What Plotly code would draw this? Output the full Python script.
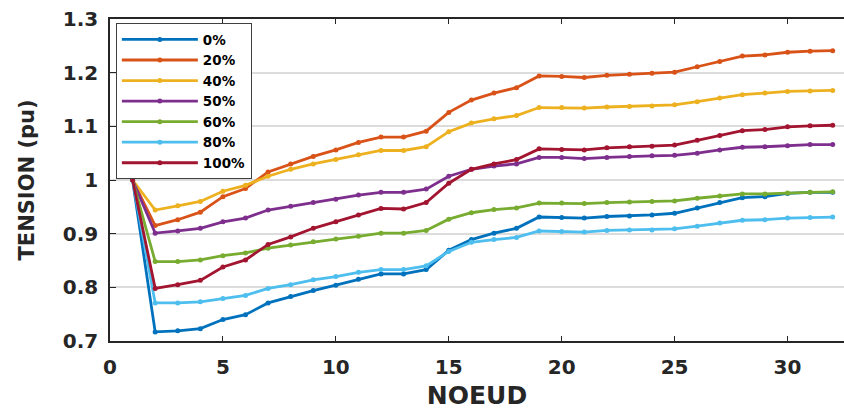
import plotly.graph_objects as go

noeuds = list(range(1, 33))

v0 = [1.0, 0.717, 0.719, 0.723, 0.740, 0.749, 0.771, 0.783, 0.794, 0.804, 0.815,
      0.825, 0.825, 0.833, 0.869, 0.889, 0.901, 0.910, 0.931, 0.930, 0.929,
      0.932, 0.933, 0.935, 0.938, 0.948, 0.958, 0.967, 0.969, 0.975, 0.977, 0.977]
v20 = [1.0, 0.915, 0.926, 0.940, 0.969, 0.984, 1.015, 1.030, 1.044, 1.056, 1.070,
       1.080, 1.080, 1.091, 1.126, 1.149, 1.162, 1.172, 1.194, 1.193, 1.191,
       1.195, 1.197, 1.199, 1.201, 1.211, 1.221, 1.231, 1.233, 1.238, 1.240, 1.241]
v40 = [1.0, 0.944, 0.952, 0.960, 0.979, 0.990, 1.007, 1.020, 1.030, 1.038, 1.047,
       1.055, 1.055, 1.062, 1.090, 1.106, 1.114, 1.120, 1.135, 1.135, 1.134,
       1.136, 1.137, 1.138, 1.140, 1.146, 1.153, 1.159, 1.162, 1.165, 1.166, 1.167]
v50 = [1.0, 0.901, 0.905, 0.910, 0.922, 0.929, 0.944, 0.951, 0.958, 0.964, 0.972,
       0.977, 0.977, 0.983, 1.007, 1.020, 1.026, 1.030, 1.042, 1.042, 1.040,
       1.042, 1.044, 1.045, 1.046, 1.050, 1.056, 1.061, 1.062, 1.064, 1.066, 1.066]
v60 = [1.0, 0.848, 0.848, 0.851, 0.859, 0.864, 0.873, 0.879, 0.885, 0.890, 0.895,
       0.901, 0.901, 0.906, 0.927, 0.939, 0.945, 0.948, 0.957, 0.957, 0.956,
       0.958, 0.959, 0.960, 0.961, 0.966, 0.970, 0.974, 0.974, 0.976, 0.977, 0.978]
v80 = [1.0, 0.771, 0.771, 0.773, 0.779, 0.785, 0.798, 0.805, 0.814, 0.820, 0.828,
       0.833, 0.833, 0.840, 0.867, 0.884, 0.889, 0.893, 0.905, 0.904, 0.903,
       0.906, 0.907, 0.907, 0.909, 0.914, 0.920, 0.925, 0.926, 0.929, 0.930, 0.931]
v100 = [1.0, 0.798, 0.805, 0.813, 0.838, 0.851, 0.880, 0.894, 0.910, 0.922, 0.935,
        0.947, 0.946, 0.958, 0.994, 1.020, 1.030, 1.038, 1.058, 1.057, 1.056,
        1.060, 1.062, 1.063, 1.065, 1.074, 1.083, 1.092, 1.094, 1.099, 1.101, 1.102]

series_names = ["0%", "20%", "40%", "50%", "60%", "80%", "100%"]
series_values = [v0, v20, v40, v50, v60, v80, v100]
colors = ["#0072BD", "#D95319", "#EDB120", "#7E2F8E", "#77AC30", "#4DBEEE", "#A2142F"]

x_tickvals = [0, 5, 10, 15, 20, 25, 30]
y_tickvals = [0.7, 0.8, 0.9, 1.0, 1.1, 1.2, 1.3]
y_ticktext = ["0.7", "0.8", "0.9", "1", "1.1", "1.2", "1.3"]

FONT = "DejaVu Sans"
AX = "#262626"

fig = go.Figure()
for name, vals, col in zip(series_names, series_values, colors):
    fig.add_trace(go.Scatter(
        x=noeuds, y=vals, name=name, mode="lines+markers",
        line=dict(color=col, width=2.8),
        marker=dict(color=col, size=5),
    ))

fig.update_layout(
    width=844, height=410,
    margin=dict(l=110, r=0, t=19, b=69, autoexpand=False),
    paper_bgcolor="white", plot_bgcolor="white",
    font=dict(family=FONT, color=AX),
    showlegend=True,
    legend=dict(
        x=0.008, y=0.987, xanchor="left", yanchor="top",
        bgcolor="white", bordercolor="#404040", borderwidth=1,
        font=dict(family=FONT, size=13.5, color="black", weight="bold"),
        itemwidth=76, tracegroupgap=0,
    ),
    xaxis=dict(
        range=[0, 32.5], tickvals=x_tickvals, automargin=False,
        showline=True, linecolor=AX, linewidth=1.5, mirror="ticks",
        ticks="inside", ticklen=5, tickwidth=1.2, tickcolor=AX,
        showgrid=False, zeroline=False,
        tickfont=dict(family=FONT, size=20, color=AX, weight="bold"),
        ticklabelstandoff=7,
        title=dict(text="NOEUD", font=dict(family=FONT, size=25, color=AX, weight="bold"), standoff=12),
    ),
    yaxis=dict(
        range=[0.7, 1.3], tickvals=y_tickvals, ticktext=y_ticktext, automargin=False,
        showline=True, linecolor=AX, linewidth=1.5,
        ticks="inside", ticklen=6, tickwidth=1.2, tickcolor=AX,
        showgrid=True, gridcolor="#DCDCDC", gridwidth=1.5, zeroline=False,
        tickfont=dict(family=FONT, size=20, color=AX, weight="bold"),
        ticklabelstandoff=6,
        title=dict(text="TENSION (pu)", font=dict(family=FONT, size=21, color=AX, weight="bold"), standoff=22),
    ),
)

fig.write_html("out.html", config={"displayModeBar": False},
               post_script="document.body.style.margin='0px';")
